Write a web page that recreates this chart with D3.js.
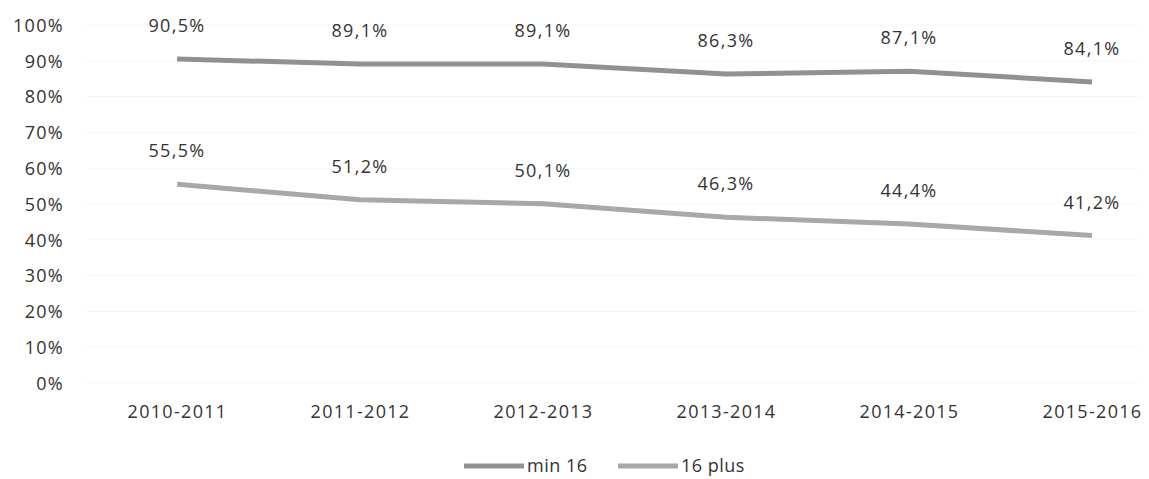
<!DOCTYPE html>
<html>
<head>
<meta charset="utf-8">
<script src="https://cdn.jsdelivr.net/npm/d3@7"></script>
<style>
  html, body { margin: 0; padding: 0; background: #fff; }
  svg { display: block; }
  text { font-family: "Open Sans", Lato, sans-serif; fill: #333; letter-spacing: 1.3px; }
</style>
</head>
<body>
<svg id="chart" width="1149" height="479"></svg>
<script>
// School years on the horizontal axis
const years = ["2010-2011", "2011-2012", "2012-2013", "2013-2014", "2014-2015", "2015-2016"];
// Shares per group (percent)
const min16 = [90.5, 89.1, 89.1, 86.3, 87.1, 84.1];
const plus16 = [55.5, 51.2, 50.1, 46.3, 44.4, 41.2];
const seriesNames = ["min 16", "16 plus"];
const yTicks = [0, 10, 20, 30, 40, 50, 60, 70, 80, 90, 100];

const svg = d3.select("#chart");

const x = d3.scalePoint().domain(years).range([177, 1092]);
const y = d3.scaleLinear().domain([0, 100]).range([383, 25]);

const fmt = v => d3.format(".1f")(v).replace(".", ",") + "%";
const FS = "18px";

// very faint horizontal gridlines
svg.append("g")
  .selectAll("line")
  .data(yTicks)
  .join("line")
  .attr("x1", 85).attr("x2", 1140)
  .attr("y1", d => y(d)).attr("y2", d => y(d))
  .attr("stroke", "#f7f7f7").attr("stroke-width", 1);

// y axis labels
const yAxis = d3.axisLeft(y).tickValues(yTicks).tickFormat(d => d + "%").tickSize(0).tickPadding(0);
const gy = svg.append("g").attr("transform", "translate(64,0)").call(yAxis);
gy.select(".domain").remove();
gy.selectAll("text").style("font-size", FS).attr("dy", "0.35em").attr("fill", "#333");

// x axis labels
const xAxis = d3.axisBottom(x).tickSize(0).tickPadding(0);
const gx = svg.append("g").attr("transform", "translate(0,418)").call(xAxis);
gx.select(".domain").remove();
gx.selectAll("text").style("font-size", FS).attr("dy", "0").attr("fill", "#333");

const series = [
  { name: seriesNames[0], values: min16, color: "#919191" },
  { name: seriesNames[1], values: plus16, color: "#a8a8a8" }
];

const line = d3.line().x((d, i) => x(years[i])).y(d => y(d));

series.forEach(s => {
  svg.append("path")
    .datum(s.values)
    .attr("d", line)
    .attr("fill", "none")
    .attr("stroke", s.color)
    .attr("stroke-width", 5)
    .attr("stroke-linecap", "butt");

  svg.append("g")
    .selectAll("text")
    .data(s.values)
    .join("text")
    .attr("x", (d, i) => x(years[i]))
    .attr("y", d => y(d) - 27)
    .attr("text-anchor", "middle")
    .style("font-size", FS)
    .text(d => fmt(d));
});

// legend
const legend = svg.append("g").attr("transform", "translate(0,466)");
const items = [
  { name: seriesNames[0], color: series[0].color, x: 464 },
  { name: seriesNames[1], color: series[1].color, x: 618 }
];
items.forEach(it => {
  legend.append("line")
    .attr("x1", it.x).attr("x2", it.x + 60)
    .attr("y1", 0).attr("y2", 0)
    .attr("stroke", it.color).attr("stroke-width", 5);
  legend.append("text")
    .attr("x", it.x + 63).attr("y", 0).attr("dy", "0.35em")
    .style("font-size", FS)
    .style("letter-spacing", "0.5px")
    .text(it.name);
});
</script>
</body>
</html>
